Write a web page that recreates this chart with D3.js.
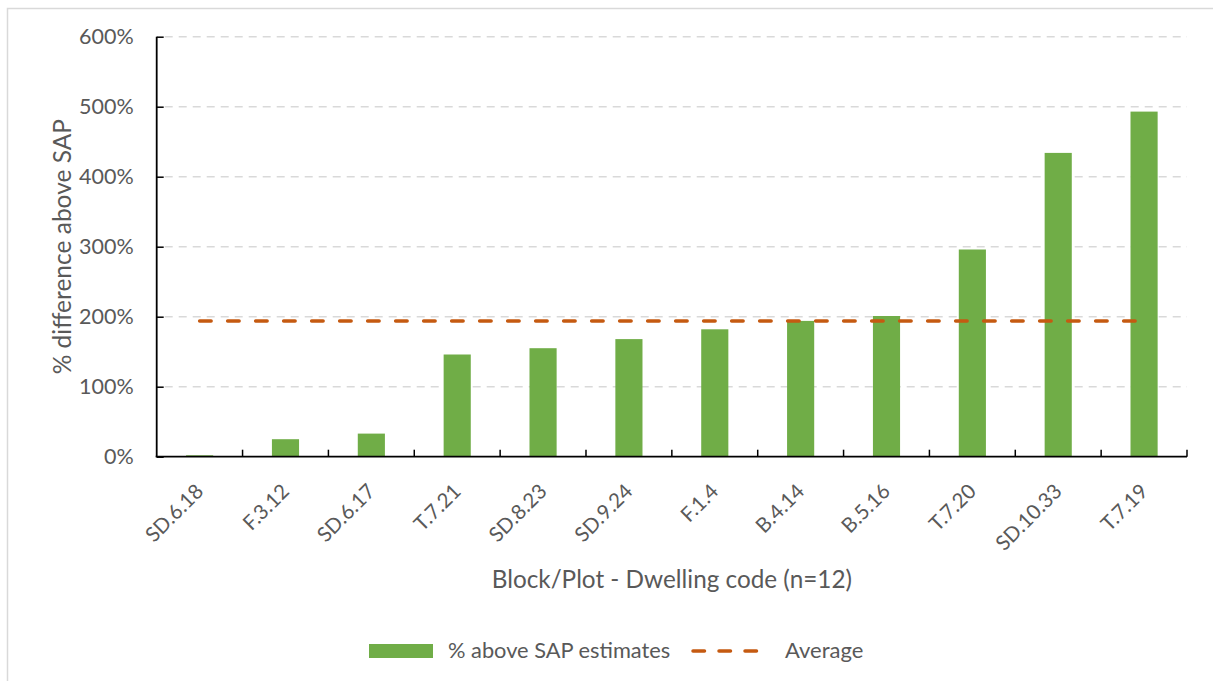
<!DOCTYPE html>
<html>
<head>
<meta charset="utf-8">
<script src="https://cdn.jsdelivr.net/npm/d3@7"></script>
<style>
  body { margin: 0; background: #fff; }
  svg text { font-family: Lato, "Open Sans", sans-serif; fill: #595959; }
</style>
</head>
<body>
<svg id="chart" width="1213" height="681"></svg>
<script>
// dwelling codes, ordered as in the chart
var codes = ["SD.6.18", "F.3.12", "SD.6.17", "T.7.21", "SD.8.23", "SD.9.24",
  "F.1.4", "B.4.14", "B.5.16", "T.7.20", "SD.10.33", "T.7.19"];
// % above SAP estimates
var aboveSap = [2, 25, 33, 146, 155, 168, 182, 194, 201, 296, 434, 493];
// average of the series
var averageValue = [194];
var yTicks = [0, 100, 200, 300, 400, 500, 600];
var legendLabels = ["% above SAP estimates", "Average"];

var data = codes.map(function(c, i) {
  return { code: c, value: aboveSap[i] };
});

var svg = d3.select("#chart"),
  margin = { top: 36.7, right: 26, bottom: 224.3, left: 156.7 },
  width = +svg.attr("width") - margin.left - margin.right,
  height = +svg.attr("height") - margin.top - margin.bottom;

// chart border
svg.append("rect")
  .attr("x", 7.5)
  .attr("y", 8.5)
  .attr("width", 1215)
  .attr("height", 690)
  .attr("fill", "none")
  .attr("stroke", "#d9d9d9")
  .attr("stroke-width", 1.5);

var g = svg.append("g")
  .attr("transform", "translate(" + margin.left + "," + margin.top + ")");

var x = d3.scaleBand()
  .domain(codes)
  .range([0, width])
  .paddingInner(0.684)
  .paddingOuter(0.342);

var y = d3.scaleLinear().domain([0, 600]).range([height, 0]);

// gridlines
g.selectAll(".grid")
  .data(yTicks.filter(function(d) { return d > 0; }))
  .enter()
  .append("line")
  .attr("class", "grid")
  .attr("x1", 8)
  .attr("x2", width)
  .attr("y1", function(d) { return y(d); })
  .attr("y2", function(d) { return y(d); })
  .attr("stroke", "#d9d9d9")
  .attr("stroke-width", 1.5)
  .attr("stroke-dasharray", "8,6");

// bars
g.selectAll(".bar")
  .data(data)
  .enter()
  .append("rect")
  .attr("class", "bar")
  .attr("x", function(d) { return x(d.code); })
  .attr("width", x.bandwidth())
  .attr("y", function(d) { return y(d.value); })
  .attr("height", function(d) { return height - y(d.value); })
  .attr("fill", "#70ad47");

// average line, from first to last category centre
var half = x.bandwidth() / 2;
g.append("line")
  .attr("x1", x(codes[0]) + half)
  .attr("x2", x(codes[codes.length - 1]) + half)
  .attr("y1", y(averageValue[0]))
  .attr("y2", y(averageValue[0]))
  .attr("stroke", "#c55a11")
  .attr("stroke-width", 3.5)
  .attr("stroke-linecap", "round")
  .attr("stroke-dasharray", "11.5,16.5");

// y axis
var yAxis = g.append("g")
  .call(d3.axisRight(y).tickValues(yTicks).tickSize(7).tickFormat(""));
yAxis.select(".domain").remove();
yAxis.selectAll("line").attr("stroke", "#000").attr("stroke-width", 1.5);
g.append("line")
  .attr("x1", 0).attr("x2", 0)
  .attr("y1", 0).attr("y2", height)
  .attr("stroke", "#000")
  .attr("stroke-width", 1.8);

g.selectAll(".ylabel")
  .data(yTicks)
  .enter()
  .append("text")
  .attr("class", "ylabel")
  .attr("x", -23)
  .attr("y", function(d) { return y(d); })
  .attr("dy", "0.36em")
  .attr("text-anchor", "end")
  .style("font-size", "21.5px")
  .text(function(d) { return d + "%"; });

// x axis: ticks between categories
var step = x.step();
var bounds = d3.range(1, codes.length + 1).map(function(i) { return i * step; });
g.selectAll(".xtick")
  .data(bounds)
  .enter()
  .append("line")
  .attr("class", "xtick")
  .attr("x1", function(d) { return d; })
  .attr("x2", function(d) { return d; })
  .attr("y1", height)
  .attr("y2", height - 7)
  .attr("stroke", "#000")
  .attr("stroke-width", 1.5);
g.append("line")
  .attr("x1", -1).attr("x2", width)
  .attr("y1", height).attr("y2", height)
  .attr("stroke", "#000")
  .attr("stroke-width", 1.8);

g.selectAll(".xlabel")
  .data(codes)
  .enter()
  .append("text")
  .attr("class", "xlabel")
  .attr("text-anchor", "end")
  .attr("transform", function(d) {
    return "translate(" + (x(d) + half + 5) + "," + (height + 36) + ") rotate(-45)";
  })
  .style("font-size", "20.5px")
  .text(function(d) { return d; });

// axis titles
svg.append("text")
  .attr("text-anchor", "middle")
  .attr("transform", "translate(71," + (margin.top + height / 2) + ") rotate(-90)")
  .style("font-size", "24.5px")
  .text("% difference above SAP");

svg.append("text")
  .attr("x", margin.left + width / 2)
  .attr("y", 588)
  .attr("text-anchor", "middle")
  .style("font-size", "24.3px")
  .text("Block/Plot - Dwelling code (n=12)");

// legend
var legend = svg.append("g");
legend.append("rect")
  .attr("x", 369)
  .attr("y", 644)
  .attr("width", 64)
  .attr("height", 14)
  .attr("fill", "#70ad47");
legend.append("text")
  .attr("x", 448)
  .attr("y", 658)
  .style("font-size", "21.8px")
  .text(legendLabels[0]);
legend.append("line")
  .attr("x1", 693)
  .attr("x2", 757)
  .attr("y1", 651)
  .attr("y2", 651)
  .attr("stroke", "#c55a11")
  .attr("stroke-width", 3.5)
  .attr("stroke-linecap", "round")
  .attr("stroke-dasharray", "11.5,14.5");
legend.append("text")
  .attr("x", 785)
  .attr("y", 658)
  .style("font-size", "22px")
  .text(legendLabels[1]);
</script>
</body>
</html>
